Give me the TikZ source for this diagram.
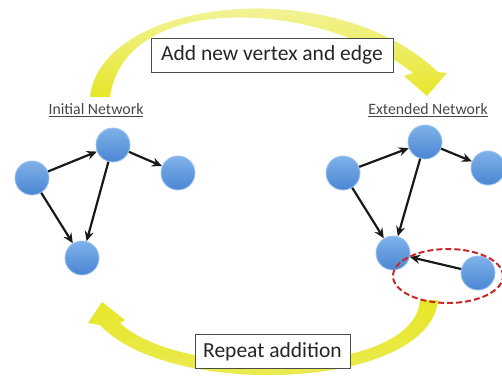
\documentclass[tikz,border=0pt]{standalone}
\usepackage{fontspec}
\setmainfont{Carlito}
\usetikzlibrary{arrows.meta,shapes.geometric}
\definecolor{ylw}{RGB}{230,230,40}
\definecolor{ylwpale}{RGB}{248,248,200}
\definecolor{ntop}{RGB}{128,178,234}
\definecolor{nbot}{RGB}{74,134,210}
\definecolor{nedge}{RGB}{155,195,240}
\definecolor{dred}{RGB}{200,40,40}
\tikzset{
  vtx/.style={circle, minimum size=34pt, inner sep=0pt, top color=ntop, bottom color=nbot, draw=nedge, line width=0.8pt},
  edge/.style={draw=black!90, line width=2.2pt, -{Stealth[length=10pt,width=9pt]}},
  boxlbl/.style={font=\fontsize{21.5}{24}\selectfont, draw=black!70, line width=0.8pt, fill=white, text=black!85, minimum height=34pt, inner sep=0pt},
  netlbl/.style={font=\fontsize{15.8}{18}\selectfont, text=black!72, inner sep=0pt},
  topband/.style={top color=ylwpale, bottom color=ylw, draw=none},
  botband/.style={top color=ylw, bottom color=ylw!75!white, draw=none}
}
\begin{document}
\begin{tikzpicture}[x=1pt,y=-1pt]
\useasboundingbox (0,0) rectangle (502,382);
% yellow cycle arrows
\path[topband] (90,97) .. controls (100,0) and (330,-30) .. (438,72)
  -- (447,73) -- (427,96) -- (404,76) -- (413,73)
  .. controls (320,0) and (125,-10) .. (110,97) -- cycle;
\path[botband] (438,300) .. controls (430,390) and (170,400) .. (100,325)
  -- (88,323) -- (102,302) -- (125,320) -- (120,323)
  .. controls (180,380) and (415,378) .. (420,300) -- cycle;
% labels
\node[boxlbl, minimum width=242pt] (addlbl) at (272,55) {Add new vertex and edge};
\node[boxlbl, minimum width=155pt] (replbl) at (272.5,351.5) {Repeat addition};
\node[netlbl] (initlbl) at (96,110) {\underline{Initial Network}};
\node[netlbl] (extlbl) at (428,110) {\underline{Extended Network}};
% initial network
\node[vtx] (a) at (32,178) {};
\node[vtx] (b) at (113,145) {};
\node[vtx] (c) at (178,173) {};
\node[vtx] (d) at (82,258) {};
\draw[edge] (a) -- (b);
\draw[edge] (b) -- (c);
\draw[edge] (a) -- (d);
\draw[edge] (b) -- (d);
% extended network
\node[vtx] (a2) at (343,173) {};
\node[vtx] (b2) at (425,142) {};
\node[vtx] (c2) at (488,168) {};
\node[vtx] (d2) at (393,253) {};
\node[vtx] (e2) at (478,273) {};
\draw[edge] (a2) -- (b2);
\draw[edge] (b2) -- (c2);
\draw[edge] (a2) -- (d2);
\draw[edge] (b2) -- (d2);
\draw[edge] (e2) -- (d2);
\node[ellipse, draw=dred, dashed, dash pattern=on 6pt off 3pt, line width=2pt, minimum width=110pt, minimum height=54pt, inner sep=0pt] (newpart) at (448,276) {};
\end{tikzpicture}
\end{document}
